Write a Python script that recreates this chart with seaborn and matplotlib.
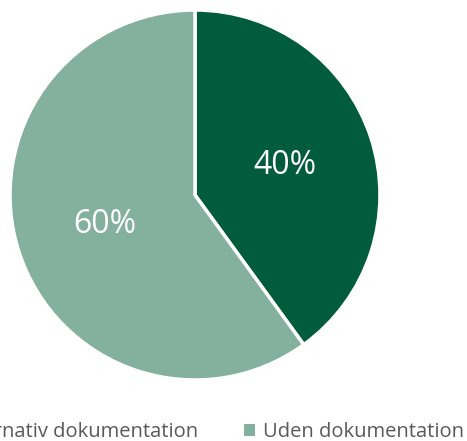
import matplotlib
matplotlib.use("Agg")
import matplotlib.pyplot as plt
import seaborn as sns
from matplotlib.patches import Patch

categories = ["Med alternativ dokumentation", "Uden dokumentation"]
values = [40, 60]
colors = ["#005C3C", "#84B0A0"]

sns.set_theme(style="white")
plt.rcParams['font.family'] = ['Open Sans', 'DejaVu Sans']

W, H = 467, 441
fig = plt.figure(figsize=(W / 100, H / 100), dpi=100)
ax = fig.add_axes([10 / W, 61 / H, 370 / W, 370 / H])

wedges, texts, autotexts = ax.pie(
    values, colors=colors, startangle=90, counterclock=False,
    autopct=lambda p: f"{p:.0f}%", pctdistance=0.51,
    wedgeprops=dict(edgecolor="white", linewidth=2.5),
    textprops=dict(color="white", fontsize=23),
    radius=1.0,
)
ax.set_xlim(-1.0, 1.0)
ax.set_ylim(-1.0, 1.0)
ax.set_aspect("equal")
ax.axis("off")

handles = [Patch(facecolor=c, edgecolor="none") for c in colors]
common = dict(frameon=False, fontsize=14.5, handlelength=0.55, handleheight=0.55,
              handletextpad=0.4, borderpad=0, borderaxespad=0, labelcolor="#595959")
leg1 = fig.legend([handles[0]], [categories[0]], loc="center right",
                  bbox_to_anchor=(198 / W, 1 - 432 / H), **common)
leg2 = fig.legend([handles[1]], [categories[1]], loc="center left",
                  bbox_to_anchor=(244 / W, 1 - 432 / H), **common)

fig.savefig("out.png", dpi=100)
